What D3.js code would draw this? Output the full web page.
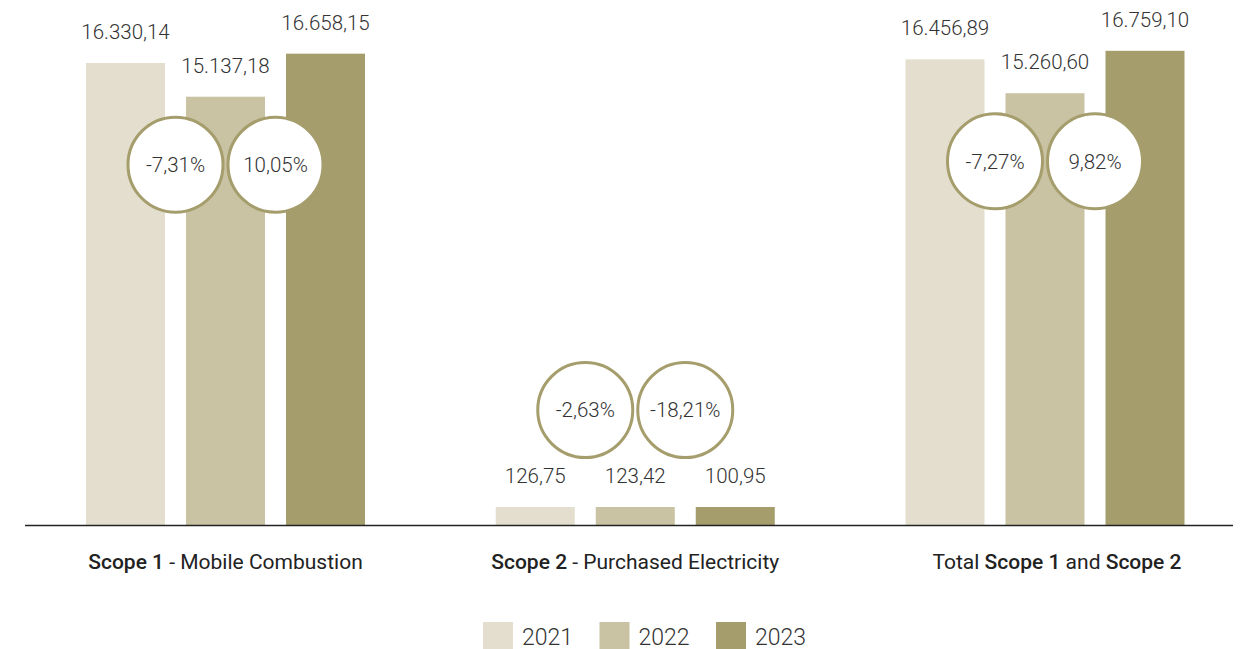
<!DOCTYPE html>
<html>
<head>
<meta charset="utf-8">
<script src="https://cdn.jsdelivr.net/npm/d3@7"></script>
<style>
  html, body { margin: 0; padding: 0; background: #ffffff; }
  svg { display: block; font-family: Roboto, "Noto Sans", sans-serif; }
</style>
</head>
<body>
<svg id="chart" width="1243" height="649"></svg>
<script>
// Emissions by scope (tCO2e), 2021-2023
const categories = ["scope1", "scope2", "total"];
const categoryLabels = [
  [["Scope 1", true], [" - Mobile Combustion", false]],
  [["Scope 2", true], [" - Purchased Electricity", false]],
  [["Total ", false], ["Scope 1", true], [" and ", false], ["Scope 2", true]]
];
const years = ["2021", "2022", "2023"];
const values2021 = [16330.14, 126.75, 16456.89];
const values2022 = [15137.18, 123.42, 15260.60];
const values2023 = [16658.15, 100.95, 16759.10];
// year-on-year change, %
const change2022 = [-7.31, -2.63, -7.27];
const change2023 = [10.05, -18.21, 9.82];

const colors = ["#e3dece", "#c9c2a3", "#a59d6c"];
const ringColor = "#a59d6c";
const textColor = "#333333";

const W = 1243, H = 649;
const baseY = 525;
const barW = 79, barStep = 100;
const minBarPx = 18;
const r = 47.5;

const locale = d3.formatLocale({ decimal: ",", thousands: ".", grouping: [3], currency: ["", "€"], minus: "-" });
const fmtValue = locale.format(",.2f");
const fmtPct = v => locale.format(".2f")(v) + "%";

const seriesValues = [values2021, values2022, values2023];
const changes = [change2022, change2023];

const svg = d3.select("#chart");

const x = d3.scalePoint().domain(categories).range([225.5, 1045]);
const xSub = d3.scalePoint().domain(years).range([-barStep, barStep]);
const y = d3.scaleLinear().domain([0, 17000]).range([baseY, baseY - 481]);

const barTop = v => Math.min(y(v), baseY - minBarPx);

const groups = svg.selectAll("g.group")
  .data(categories)
  .join("g")
  .attr("class", "group")
  .attr("transform", d => `translate(${x(d)},0)`);

// bars
groups.each(function (cat, ci) {
  const g = d3.select(this);
  const data = years.map((yr, yi) => ({ yr, yi, v: seriesValues[yi][ci] }));

  g.selectAll("rect.bar")
    .data(data)
    .join("rect")
    .attr("class", "bar")
    .attr("x", d => xSub(d.yr) - barW / 2)
    .attr("width", barW)
    .attr("y", d => barTop(d.v))
    .attr("height", d => baseY - barTop(d.v))
    .attr("fill", d => colors[d.yi]);

  g.selectAll("text.val")
    .data(data)
    .join("text")
    .attr("class", "val")
    .attr("x", d => xSub(d.yr))
    .attr("y", d => barTop(d.v) - 24)
    .attr("text-anchor", "middle")
    .attr("font-size", 20.5)
    .attr("font-weight", 300)
    .attr("fill", textColor)
    .text(d => fmtValue(d.v));

  // change badges between consecutive years
  const minV = d3.min(data, d => d.v);
  const tall = baseY - barTop(minV) > 4 * r;
  const cy = tall ? y(minV) + 68 : barTop(d3.max(data, d => d.v)) - 97;
  const badges = changes.map((arr, k) => ({
    cx: (xSub(years[k]) + xSub(years[k + 1])) / 2,
    v: arr[ci]
  }));
  const b = g.selectAll("g.badge")
    .data(badges)
    .join("g")
    .attr("class", "badge")
    .attr("transform", d => `translate(${d.cx},${cy})`);
  b.append("circle")
    .attr("r", r)
    .attr("fill", "#ffffff")
    .attr("stroke", ringColor)
    .attr("stroke-width", 3);
  b.append("text")
    .attr("text-anchor", "middle")
    .attr("dy", "0.36em")
    .attr("font-size", 20.5)
    .attr("font-weight", 300)
    .attr("fill", textColor)
    .text(d => fmtPct(d.v));
});

// baseline
svg.append("line")
  .attr("x1", 25).attr("x2", 1233)
  .attr("y1", baseY + 0.5).attr("y2", baseY + 0.5)
  .attr("stroke", "#222222")
  .attr("stroke-width", 1.5);

// category labels
const catText = svg.selectAll("text.cat")
  .data(categories)
  .join("text")
  .attr("class", "cat")
  .attr("x", (d, i) => x(d) + (i === 2 ? 12 : 0))
  .attr("y", 569)
  .attr("text-anchor", "middle")
  .attr("font-size", 21)
  .attr("fill", "#222222");
catText.each(function (d, i) {
  d3.select(this).selectAll("tspan")
    .data(categoryLabels[i])
    .join("tspan")
    .attr("font-weight", p => p[1] ? 500 : 400)
    .text(p => p[0]);
});

// legend
const legend = svg.append("g").attr("transform", "translate(483,622)");
const item = legend.selectAll("g")
  .data(years)
  .join("g")
  .attr("transform", (d, i) => `translate(${i * 116.5},0)`);
item.append("rect")
  .attr("width", 30).attr("height", 28)
  .attr("fill", (d, i) => colors[i]);
item.append("text")
  .attr("x", 39).attr("y", 22.5)
  .attr("font-size", 23)
  .attr("font-weight", 300)
  .attr("fill", textColor)
  .text(d => d);
</script>
</body>
</html>
